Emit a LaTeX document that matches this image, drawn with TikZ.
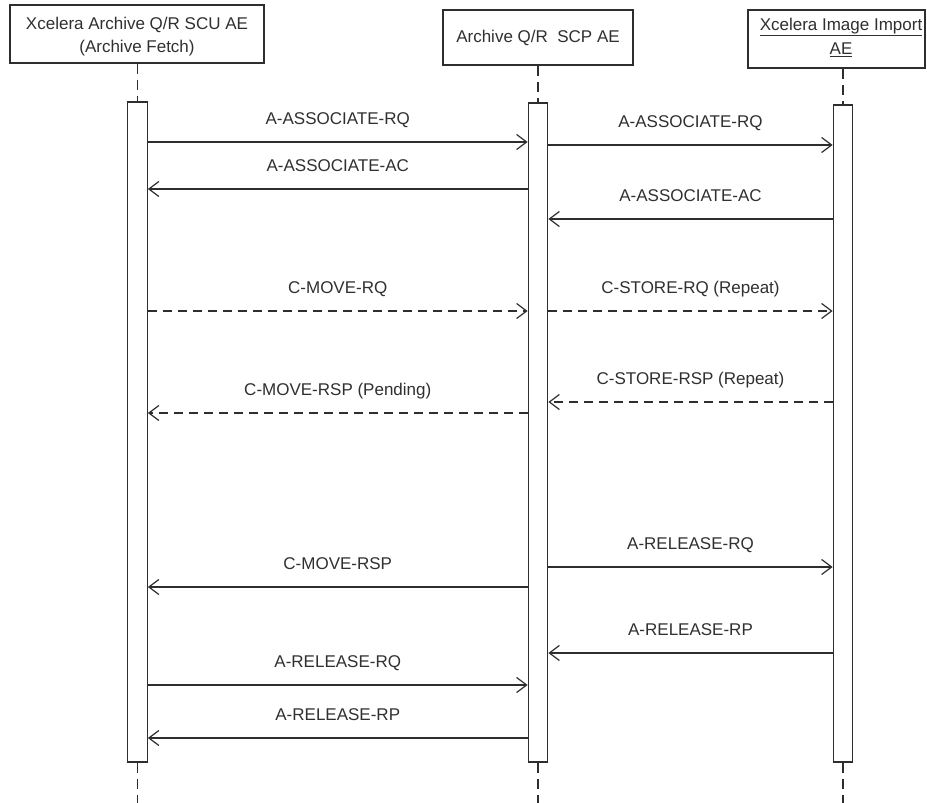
\documentclass[tikz,border=0pt]{standalone}
\usepackage{fontspec}
\setmainfont{Liberation Sans}
\usetikzlibrary{arrows.meta}
\definecolor{ink}{HTML}{2E2E2E}
\definecolor{txt}{HTML}{303030}
\begin{document}
\begin{tikzpicture}[x=1pt,y=-1pt,
  every node/.style={font=\fontsize{17}{21}\selectfont, text=txt},
  headbox/.style={draw=ink, line width=1.3pt, fill=white, inner sep=0pt, align=center},
  actbar/.style={draw=ink, line width=1.3pt, fill=white, inner sep=0pt, minimum width=19.5pt},
  life/.style={draw=ink, line width=1.2pt, dash pattern=on 10pt off 6pt},
  msg/.style={draw=ink, line width=1.2pt, -{Straight Barb[length=10pt,width=15pt,line width=1.2pt]}},
  dmsg/.style={msg, dash pattern=on 9pt off 6pt},
  lbl/.style={midway, anchor=base, yshift=18pt, inner sep=0pt}]
\useasboundingbox (0,0) rectangle (927,803);
\fill[white] (0,0) rectangle (927,803);

% header boxes
\node[headbox, minimum width=254pt, minimum height=58pt] (h1) at (137,34) {};
\node at (137,25) (t1a) {Xcelera Archive Q/R SCU AE};
\node at (137,48) (t1b) {(Archive Fetch)};
\node[headbox, minimum width=190pt, minimum height=55pt] (h2) at (538,37.5) {Archive Q/R\ \ SCP AE};
\node[headbox, minimum width=177pt, minimum height=58pt] (h3) at (836.5,39) {};
\node at (841,27) (t3a) {\underline{Xcelera Image Import}};
\node at (841,50) (t3b) {\underline{AE}};

% activation bars
\node[actbar, minimum height=660pt] (b1) at (137.5,432) {};
\node[actbar, minimum height=659pt] (b2) at (538,432.5) {};
\node[actbar, minimum height=657pt] (b3) at (843,433.5) {};

% lifelines
\coordinate (e1) at (137.5,803);
\coordinate (e2) at (538,803);
\coordinate (e3) at (843,803);
\draw[life] (b1.north |- h1.south) -- (b1.north);
\draw[life] (b2.north |- h2.south) -- (b2.north);
\draw[life] (b3.north |- h3.south) -- (b3.north);
\draw[life] (b1.south) -- (e1);
\draw[life] (b2.south) -- (e2);
\draw[life] (b3.south) -- (e3);

% message heights
\coordinate (m1) at (0,142);
\coordinate (m2) at (0,145);
\coordinate (m3) at (0,189);
\coordinate (m4) at (0,219);
\coordinate (m5) at (0,311);
\coordinate (m6) at (0,311);
\coordinate (m7) at (0,413);
\coordinate (m8) at (0,402);
\coordinate (m9) at (0,567);
\coordinate (m10) at (0,587);
\coordinate (m11) at (0,653);
\coordinate (m12) at (0,685);
\coordinate (m13) at (0,738);

% messages
\draw[msg] (b1.east |- m1) -- node[lbl] {A-ASSOCIATE-RQ} (b2.west |- m1);
\draw[msg] (b2.east |- m2) -- node[lbl] {A-ASSOCIATE-RQ} (b3.west |- m2);
\draw[msg] (b2.west |- m3) -- node[lbl] {A-ASSOCIATE-AC} (b1.east |- m3);
\draw[msg] (b3.west |- m4) -- node[lbl] {A-ASSOCIATE-AC} (b2.east |- m4);
\draw[dmsg] (b1.east |- m5) -- node[lbl] {C-MOVE-RQ} (b2.west |- m5);
\draw[dmsg] (b2.east |- m6) -- node[lbl] {C-STORE-RQ (Repeat)} (b3.west |- m6);
\draw[dmsg] (b2.west |- m7) -- node[lbl] {C-MOVE-RSP (Pending)} (b1.east |- m7);
\draw[dmsg] (b3.west |- m8) -- node[lbl] {C-STORE-RSP (Repeat)} (b2.east |- m8);
\draw[msg] (b2.east |- m9) -- node[lbl] {A-RELEASE-RQ} (b3.west |- m9);
\draw[msg] (b2.west |- m10) -- node[lbl] {C-MOVE-RSP} (b1.east |- m10);
\draw[msg] (b3.west |- m11) -- node[lbl] {A-RELEASE-RP} (b2.east |- m11);
\draw[msg] (b1.east |- m12) -- node[lbl] {A-RELEASE-RQ} (b2.west |- m12);
\draw[msg] (b2.west |- m13) -- node[lbl] {A-RELEASE-RP} (b1.east |- m13);
\end{tikzpicture}
\end{document}
